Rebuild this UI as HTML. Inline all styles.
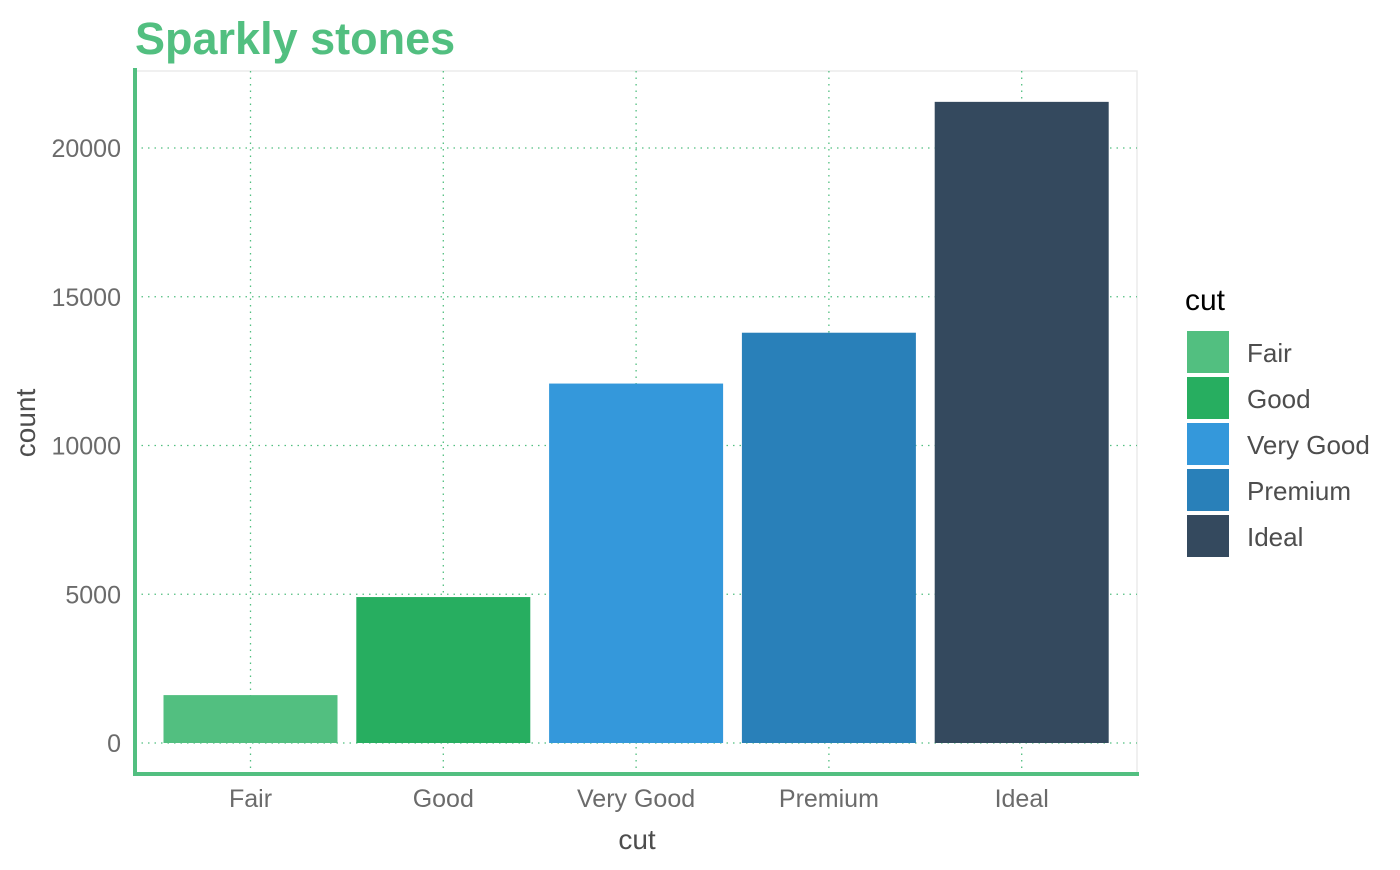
<!DOCTYPE html>
<html><head><meta charset="utf-8"><style>
body{margin:0;background:#fff;font-family:"Liberation Sans",sans-serif}
</style></head><body>
<svg id="chart" width="1400" height="865" xmlns="http://www.w3.org/2000/svg" style="font-family:'Liberation Sans',sans-serif">
<text x="135" y="54" font-size="45" font-weight="bold" fill="#52bf80">Sparkly stones</text>
<rect x="135" y="71" width="1002" height="703" fill="none" stroke="#ebebeb" stroke-width="1.5"/>
<g id="grid"></g>
<g id="bars"></g>
<line x1="135" y1="68" x2="135" y2="776" stroke="#52bf80" stroke-width="4"/>
<line x1="133" y1="774" x2="1139" y2="774" stroke="#52bf80" stroke-width="4"/>
<g id="yticks"></g>
<g id="xticks"></g>
<text x="637" y="849" font-size="28" fill="#4d4d4d" text-anchor="middle">cut</text>
<text transform="translate(35,423) rotate(-90)" font-size="28" fill="#4d4d4d" text-anchor="middle">count</text>
<text x="1185" y="310" font-size="30" fill="#000">cut</text>
<g id="legend"></g>
</svg>
<script>
const categories=["Fair","Good","Very Good","Premium","Ideal"];
const counts=[1610,4906,12082,13791,21551];
const colors=["#52bf80","#27ae60","#3498db","#2980b9","#34495e"];
const yTicks=[0,5000,10000,15000,20000];
const NS="http://www.w3.org/2000/svg";
const y=v=>743-v*(595/20000);
const x=i=>250.5+i*192.8;
const bw=174;
function mk(t,a,p){const e=document.createElementNS(NS,t);for(const k in a)e.setAttribute(k,a[k]);p.appendChild(e);return e;}
const grid=document.getElementById('grid'),bars=document.getElementById('bars'),yt=document.getElementById('yticks'),xt=document.getElementById('xticks'),lg=document.getElementById('legend');
yTicks.forEach(v=>{
 const l=mk('line',{x1:135,x2:1137,y1:y(v),y2:y(v),stroke:'#52bf80','stroke-width':1.3,'stroke-dasharray':'1.5 5'},grid);
 
 
 const t=mk('text',{x:121,y:y(v)+9,'font-size':25,fill:'#6b6b6b','text-anchor':'end'},yt);
 t.textContent=v;
 
 
});
categories.forEach((c,i)=>{
 const l=mk('line',{x1:x(i),x2:x(i),y1:71,y2:774,stroke:'#52bf80','stroke-width':1.3,'stroke-dasharray':'1.5 5'},grid);
 
 
 const r=mk('rect',{x:x(i)-bw/2,y:y(counts[i]),width:bw,height:y(0)-y(counts[i]),fill:colors[i]},bars);
 
 
 const t=mk('text',{x:x(i),y:807,'font-size':25,fill:'#6b6b6b','text-anchor':'middle'},xt);
 t.textContent=c;
 
 
 const s=mk('rect',{x:1187,y:331+i*46,width:42,height:42,fill:colors[i]},lg);
 
 
 const lt=mk('text',{x:1247,y:362+i*46,'font-size':26,fill:'#4d4d4d'},lg);
 lt.textContent=c;
 
 
});
</script>
</body></html>
